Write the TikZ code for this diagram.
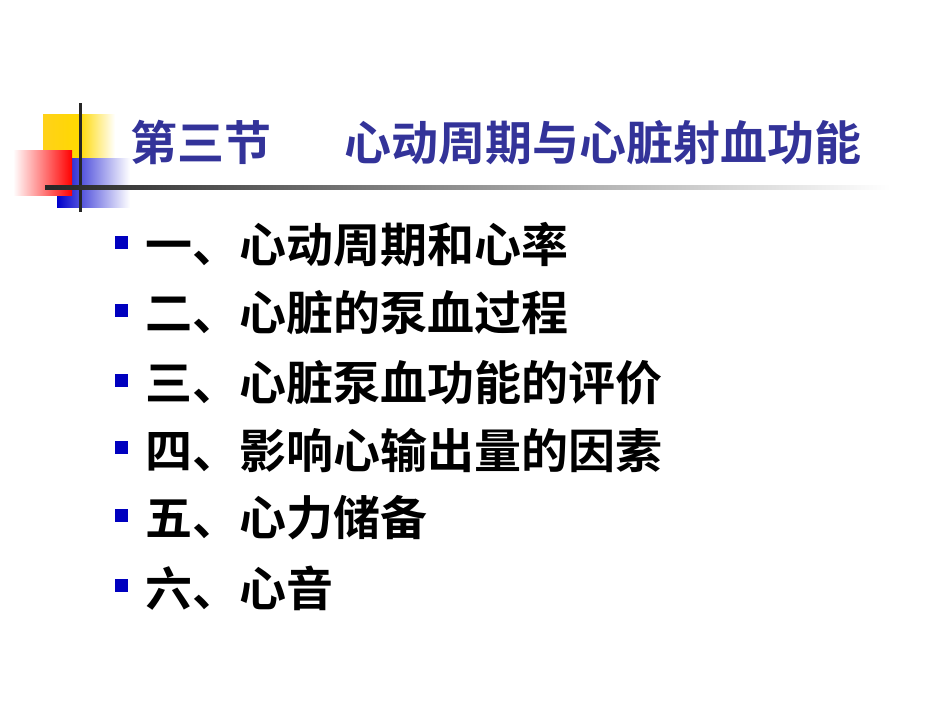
\documentclass[tikz,border=0pt]{standalone}
\usepackage{fontspec}
\newfontfamily\cjk{Noto Sans CJK SC Bold}
\begin{document}
\begin{tikzpicture}[x=1pt,y=-1pt]
\tikzset{item/.style={anchor=west,font=\cjk\fontsize{47}{50}\selectfont,text=black,inner sep=0},
bul/.style={fill=blue!75!black,minimum size=13,inner sep=0}}
\useasboundingbox (0,0) rectangle (950,713);
\shade[left color=yellow!60!orange!90!white, right color=white, middle color=yellow!70!orange] (43,114) rectangle (115,158);
\shade[left color=blue!80!black, right color=white] (57,158) rectangle (130,207);
\shade[shading angle=45, left color=white, right color=red] (13,150) rectangle (72,195);
\draw[line width=3,black!85] (80,103) -- (80,212);
\shade[left color=black!85, right color=white] (45,185.5) rectangle (890,189);
\node[anchor=west,font=\cjk\fontsize{47}{50}\selectfont,text={rgb,255:red,51;green,51;blue,153},inner sep=0] (t) at (130,143) {第三节\hspace{1.57em}心动周期与心脏射血功能};
\foreach \y/\s [count=\i] in {245/一、心动周期和心率,313/二、心脏的泵血过程,383/三、心脏泵血功能的评价,450/四、影响心输出量的因素,518/五、心力储备,588/六、心音}{
 \node[bul] (b\i) at (121,\y-3) {};
 \node[item] (i\i) at (145,\y) {\s};
}
\end{tikzpicture}
\end{document}
